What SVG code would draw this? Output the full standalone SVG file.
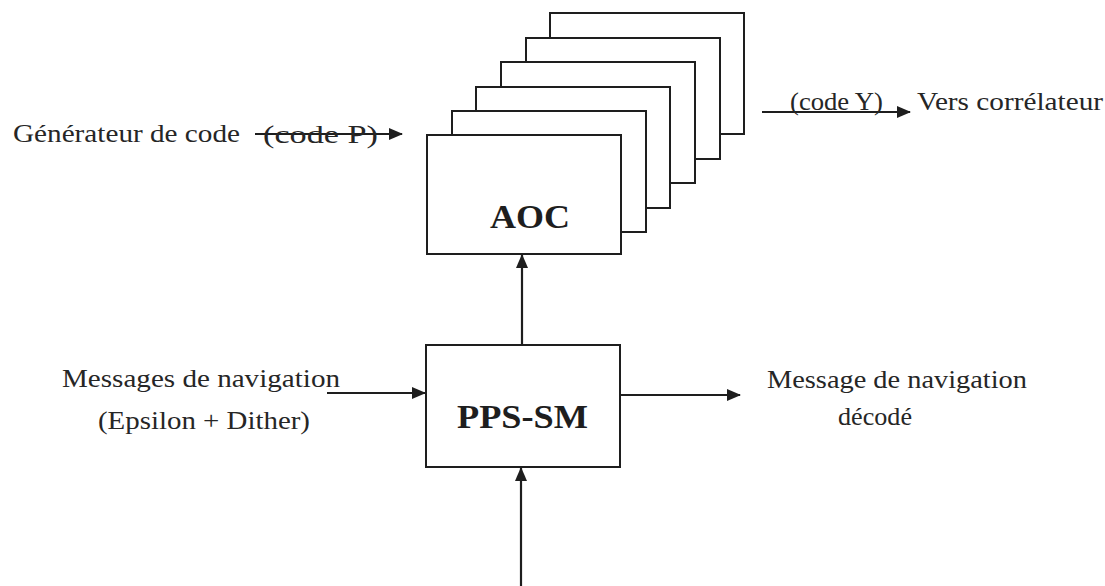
<svg xmlns="http://www.w3.org/2000/svg" width="1105" height="586" viewBox="0 0 1105 586">
  <style>
    .box { fill: #ffffff; stroke: #1e1e1e; stroke-width: 2; }
    .conn { stroke: #1e1e1e; stroke-width: 2.2; fill: none; }
    .t { font-family: "Liberation Serif", "Times New Roman", serif; fill: #262626; font-size: 25px; }
    .b { font-family: "Liberation Serif", "Times New Roman", serif; fill: #1e1e1e; font-size: 34px; font-weight: bold; }
  </style>
  <defs>
    <marker id="arr" markerUnits="userSpaceOnUse" markerWidth="14" markerHeight="12" refX="13" refY="6" orient="auto">
      <path d="M0,0 L14,6 L0,12 z" fill="#1e1e1e"/>
    </marker>
  </defs>
  <rect width="1105" height="586" fill="#ffffff"/>

  <g id="aoc-stack">
    <rect class="box" x="550" y="13" width="194" height="121"/>
    <rect class="box" x="526" y="38" width="194" height="121"/>
    <rect class="box" x="501" y="62" width="194" height="121"/>
    <rect class="box" x="476" y="87" width="194" height="121"/>
    <rect class="box" x="452" y="111" width="194" height="121"/>
  </g>
  <g id="aoc">
    <rect class="box" x="427" y="135" width="194" height="119"/>
    <text class="b" x="490" y="228" textLength="80" lengthAdjust="spacingAndGlyphs">AOC</text>
  </g>
  <g id="pps-sm">
    <rect class="box" x="426" y="345" width="194" height="122"/>
    <text class="b" x="457" y="428" textLength="131" lengthAdjust="spacingAndGlyphs">PPS-SM</text>
  </g>

  <g id="gen-code">
    <text class="t" x="13" y="142" font-size="27" textLength="227" lengthAdjust="spacingAndGlyphs">Générateur de code</text>
  </g>
  <g id="correlateur">
    <text class="t" x="917" y="110" font-size="26" textLength="186" lengthAdjust="spacingAndGlyphs">Vers corrélateur</text>
  </g>
  <g id="nav-in">
    <text class="t" x="62" y="387" textLength="278" lengthAdjust="spacingAndGlyphs">Messages de navigation</text>
    <text class="t" x="98" y="429" textLength="212" lengthAdjust="spacingAndGlyphs">(Epsilon + Dither)</text>
  </g>
  <g id="nav-out">
    <text class="t" x="767" y="388" textLength="260" lengthAdjust="spacingAndGlyphs">Message de navigation</text>
    <text class="t" x="838" y="425" textLength="74" lengthAdjust="spacingAndGlyphs">décodé</text>
  </g>

  <g id="connectors">
    <line class="conn" x1="255" y1="134" x2="402" y2="134" marker-end="url(#arr)"/>
    <text class="t" x="263" y="143" font-size="26" textLength="115" lengthAdjust="spacingAndGlyphs">(code P)</text>
    <line class="conn" x1="762" y1="112" x2="910" y2="112" marker-end="url(#arr)"/>
    <text class="t" x="790" y="110" font-size="26" textLength="93" lengthAdjust="spacingAndGlyphs">(code Y)</text>
    <line class="conn" x1="522" y1="345" x2="522" y2="255" marker-end="url(#arr)"/>
    <line class="conn" x1="327" y1="393" x2="425" y2="393" marker-end="url(#arr)"/>
    <line class="conn" x1="621" y1="395" x2="740" y2="395" marker-end="url(#arr)"/>
    <line class="conn" x1="521" y1="586" x2="521" y2="468" marker-end="url(#arr)"/>
  </g>
</svg>
